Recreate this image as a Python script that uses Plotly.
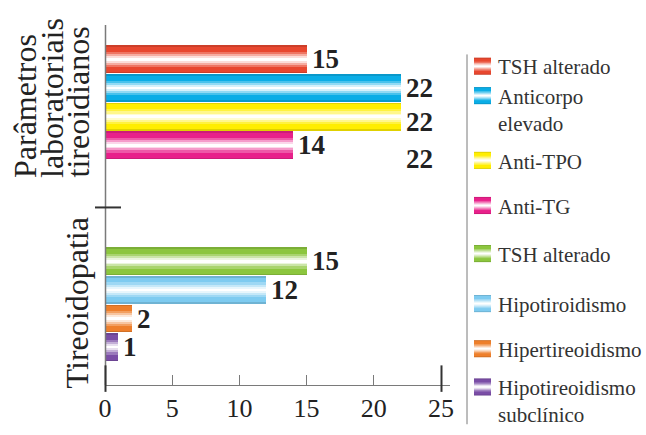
import plotly.graph_objects as go

# ---- data -------------------------------------------------------------
lab_title = ["Parâmetros", "laboratoriais", "tireoidianos"]
lab_names = ["TSH alterado", "Anticorpo<br>elevado", "Anti-TPO", "Anti-TG"]
lab_values = [15, 22, 22, 14]
lab_colors = ["#E8472F", "#0AADE6", "#FFEE00", "#E8208A"]

tir_title = "Tireoidopatia"
tir_names = ["TSH alterado", "Hipotiroidismo", "Hipertireoidismo", "Hipotireoidismo<br>subclínico"]
tir_values = [15, 12, 2, 1]
tir_colors = ["#8CC63E", "#7ECBF0", "#EE7F2B", "#7A4DA6"]

x_ticks = [0, 5, 10, 15, 20, 25]

# ---- layout constants -------------------------------------------------
W, H = 646, 435
ML, MR, MT, MB = 105, 196, 25, 43
PLOT_W = W - ML - MR
PLOT_H = H - MT - MB
X_MAX = 25.67
Y_TOP, Y_BOT = -1.2, 11.37
GROUP2_START = 7.05
FONT = "Liberation Serif"
INK = "#222222"
AXIS = "#7a7a7a"


def px_x(p):
    return (p - ML) / PLOT_W


def px_y(p):
    return (H - MB - p) / PLOT_H


def mix(hex_color, t, target=(255, 255, 255)):
    r, g, b = (int(hex_color[i:i + 2], 16) for i in (1, 3, 5))
    r = round(r + (target[0] - r) * t)
    g = round(g + (target[1] - g) * t)
    b = round(b + (target[2] - b) * t)
    return f"rgb({r},{g},{b})"


lab_slots = [i for i in range(len(lab_values))]
tir_slots = [GROUP2_START + i for i in range(len(tir_values))]

values = lab_values + tir_values
slots = lab_slots + tir_slots
colors = lab_colors + tir_colors

# glossy bars: nested bands from the bar edge towards a white centre stripe
layers = [(0.97, -0.12), (0.86, 0.0), (0.52, 0.25), (0.36, 0.55), (0.22, 0.82), (0.09, 1.0)]

fig = go.Figure()
for w, t in layers:
    if t < 0:
        cols = [mix(c, -t, (0, 0, 0)) for c in colors]
    else:
        cols = [mix(c, t) for c in colors]
    fig.add_trace(go.Bar(
        orientation="h", x=values, y=slots, width=w,
        marker=dict(color=cols, line=dict(width=0)),
        hoverinfo="skip", showlegend=False,
    ))

annotations = []
shapes = []

# value labels
label_dy = [0, 0, 0.2, 0, 0, 0, 0, 0]
for v, s, dy in zip(values, slots, label_dy):
    annotations.append(dict(
        x=v, y=s + dy, xref="x", yref="y", text=f"<b>{v}</b>",
        xanchor="left", yanchor="middle", xshift=3, showarrow=False,
        font=dict(family=FONT, size=27, color=INK),
    ))
annotations.append(dict(
    x=lab_values[2], y=lab_slots[3] + 0.48, xref="x", yref="y",
    text=f"<b>{lab_values[2]}</b>", xanchor="left", yanchor="middle",
    xshift=3, showarrow=False, font=dict(family=FONT, size=27, color=INK),
))

# group titles (rotated)
for line, xp in zip(lab_title, [25, 52, 78]):
    annotations.append(dict(
        x=px_x(xp), y=px_y(183), xref="paper", yref="paper", text=line,
        textangle=-90, xanchor="center", yanchor="bottom", showarrow=False,
        font=dict(family=FONT, size=32, color=INK),
    ))
annotations.append(dict(
    x=px_x(77), y=px_y(398), xref="paper", yref="paper", text=tir_title,
    textangle=-90, xanchor="center", yanchor="bottom", showarrow=False,
    font=dict(family=FONT, size=32, color=INK),
))

# category axis line
shapes.append(dict(type="line", xref="paper", yref="paper",
                   x0=px_x(105.5), x1=px_x(105.5), y0=px_y(25), y1=px_y(392),
                   line=dict(color=AXIS, width=1.5), layer="above"))
# separator tick between the two groups
shapes.append(dict(type="line", xref="paper", yref="paper",
                   x0=px_x(95), x1=px_x(121), y0=px_y(211), y1=px_y(211),
                   line=dict(color="#333333", width=2)))
# tall end ticks on the value axis
for xv in (x_ticks[0], x_ticks[-1]):
    xp = px_x(ML + 0.5 + xv / X_MAX * PLOT_W)
    shapes.append(dict(type="line", xref="paper", yref="paper", x0=xp, x1=xp,
                       y0=px_y(372), y1=px_y(399), line=dict(color="#333333", width=2),
                       layer="above"))

# legend
shapes.append(dict(type="line", xref="paper", yref="paper",
                   x0=px_x(467), x1=px_x(467), y0=px_y(55), y1=px_y(432),
                   line=dict(color=AXIS, width=1)))
legend_names = lab_names + tir_names
legend_y = [67, 97, 163, 209, 258, 309, 355, 394]
SW_H = 18
for name, col, yc in zip(legend_names, colors, legend_y):
    for w, t in layers:
        fill = mix(col, -t, (0, 0, 0)) if t < 0 else mix(col, t)
        h = SW_H * w
        shapes.append(dict(type="rect", xref="paper", yref="paper",
                           x0=px_x(474), x1=px_x(491),
                           y0=px_y(yc - h / 2), y1=px_y(yc + h / 2),
                           fillcolor=fill, line=dict(width=0), layer="above"))
    annotations.append(dict(
        x=px_x(496), y=px_y(yc - 13), xref="paper", yref="paper", text=name,
        xanchor="left", yanchor="top", align="left", showarrow=False,
        font=dict(family=FONT, size=21, color="#333333"),
    ))

fig.update_layout(
    width=W, height=H, margin=dict(l=ML, r=MR, t=MT, b=MB),
    paper_bgcolor="white", plot_bgcolor="white",
    barmode="overlay", bargap=0,
    showlegend=False,
    annotations=annotations, shapes=shapes,
    xaxis=dict(range=[0, X_MAX], tickvals=x_ticks, ticks="inside", ticklen=10,
               tickcolor=AXIS, tickwidth=1, showline=True, linecolor=AXIS,
               linewidth=1, showgrid=False, zeroline=False,
               tickfont=dict(family=FONT, size=26, color=INK)),
    yaxis=dict(range=[Y_BOT, Y_TOP], showline=False,
               showticklabels=False, ticks="", showgrid=False, zeroline=False),
)

fig.write_html("out.html")
